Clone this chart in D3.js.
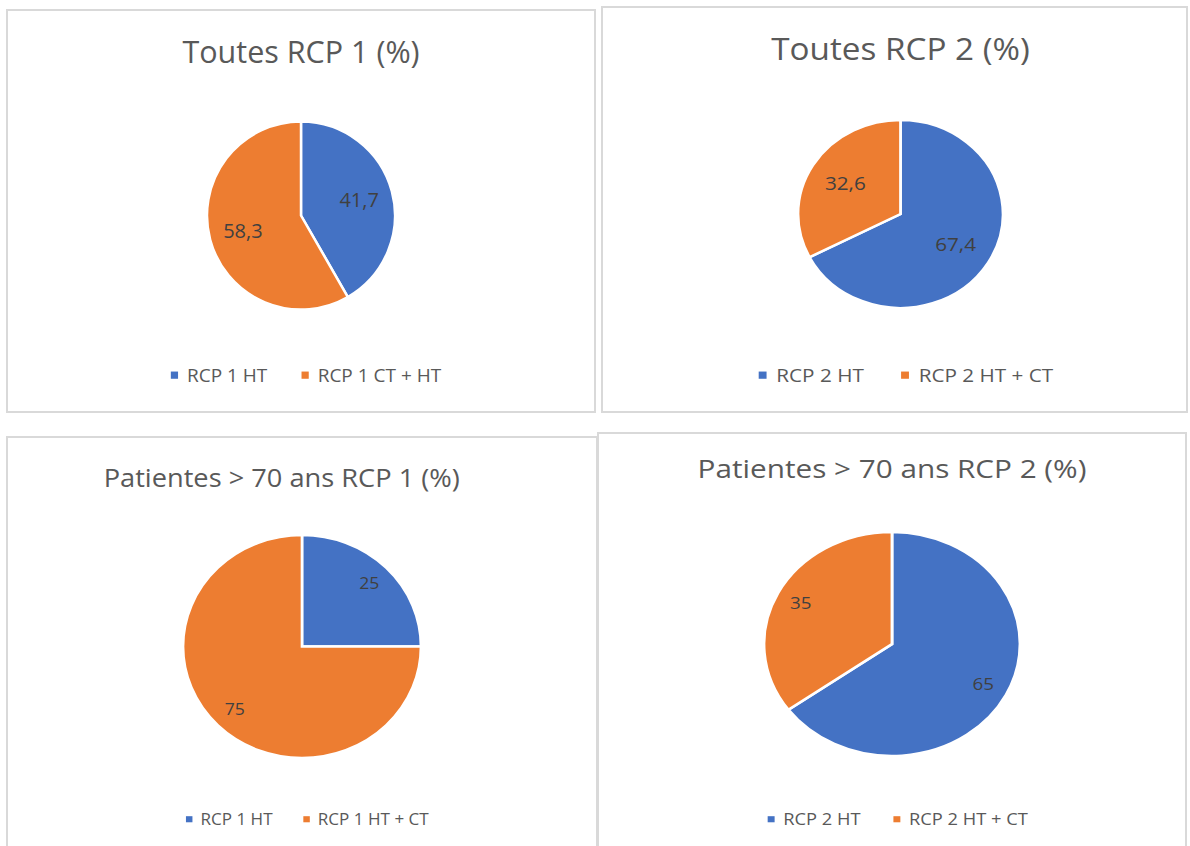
<!DOCTYPE html>
<html>
<head>
<meta charset="utf-8">
<script src="https://cdn.jsdelivr.net/npm/d3@7"></script>
<style>
  body { margin: 0; background: #fff; }
  text { font-family: "Open Sans", "Noto Sans", sans-serif; }
</style>
</head>
<body>
<script>
// data
const titles = ["Toutes RCP 1 (%)", "Toutes RCP 2 (%)", "Patientes > 70 ans RCP 1 (%)", "Patientes > 70 ans RCP 2 (%)"];
const seriesNames = [
  ["RCP 1 HT", "RCP 1 CT + HT"],
  ["RCP 2 HT", "RCP 2 HT + CT"],
  ["RCP 1 HT", "RCP 1 HT + CT"],
  ["RCP 2 HT", "RCP 2 HT + CT"]
];
const values = [[41.7, 58.3], [67.4, 32.6], [25, 75], [65, 35]];
const colors = ["#4472C4", "#ED7D31"];

// layout of the four boxes (the screenshot is stretched a bit sideways)
const panels = [
  {box: [7, 10, 588, 402], cx: 301, cy: 215.5, r: 94, sx: 1, titleDx: 0, titleY: 63, titleSize: 30.5, legendY: 382, legendSize: 19, labelSize: 20, labelR: 0.64},
  {box: [602, 7, 585, 405], cx: 900.5, cy: 214, r: 94, sx: 1.09, titleDx: 0, titleY: 60, titleSize: 30.5, legendY: 382, legendSize: 19, labelSize: 19, labelR: 0.63},
  {box: [7, 437, 590, 420], cx: 302, cy: 646.5, r: 111.5, sx: 1.067, titleDx: -19, titleY: 487, titleSize: 25.5, legendY: 825, legendSize: 16, labelSize: 16.5, labelR: 0.8},
  {box: [598, 433, 588, 420], cx: 892, cy: 644, r: 112, sx: 1.143, titleDx: 0, titleY: 478, titleSize: 26, legendY: 825, legendSize: 16, labelSize: 16.5, labelR: 0.8}
];

const w = 1190, h = 846;
const svg = d3.select("body").append("svg")
  .attr("width", w)
  .attr("height", h);

const pie = d3.pie().sort(null).value(d => d);
const fmt = v => String(v).replace(".", ",");

panels.forEach((p, i) => {
  svg.append("rect")
    .attr("x", p.box[0]).attr("y", p.box[1])
    .attr("width", p.box[2]).attr("height", p.box[3])
    .attr("fill", "#fff")
    .attr("stroke", "#d9d9d9")
    .attr("stroke-width", 2);

  const g = svg.append("g")
    .attr("transform", `translate(${p.cx},0) scale(${p.sx},1)`);

  g.append("text")
    .attr("x", p.titleDx)
    .attr("y", p.titleY)
    .attr("text-anchor", "middle")
    .attr("font-size", p.titleSize)
    .attr("fill", "#595959")
    .text(titles[i]);

  const arc = d3.arc().innerRadius(0).outerRadius(p.r);
  const labelArc = d3.arc().innerRadius(p.r * p.labelR).outerRadius(p.r * p.labelR);
  const arcs = pie(values[i]);

  const pg = g.append("g").attr("transform", `translate(0,${p.cy})`);
  pg.selectAll("path")
    .data(arcs)
    .enter()
    .append("path")
    .attr("d", arc)
    .attr("fill", (d, j) => colors[j])
    .attr("stroke", "#fff")
    .attr("stroke-width", 2.5);

  pg.selectAll("text")
    .data(arcs)
    .enter()
    .append("text")
    .attr("transform", d => `translate(${labelArc.centroid(d)})`)
    .attr("text-anchor", "middle")
    .attr("dy", "0.35em")
    .attr("font-size", p.labelSize)
    .attr("fill", "#404040")
    .text(d => fmt(d.data));

  // legend
  const lg = g.append("g");
  const items = lg.selectAll("g")
    .data(seriesNames[i])
    .enter()
    .append("g");
  const sq = p.legendSize * 0.38;
  items.append("rect")
    .attr("width", sq).attr("height", sq)
    .attr("y", p.legendY - p.legendSize * 0.36 - sq / 2)
    .attr("fill", (d, j) => colors[j]);
  items.append("text")
    .attr("x", p.legendSize * 0.85)
    .attr("y", p.legendY)
    .attr("font-size", p.legendSize)
    .attr("fill", "#595959")
    .text(d => d);
  let xpos = 0;
  items.each(function(d, j) {
    const tw = d3.select(this).select("text").node().getComputedTextLength();
    d3.select(this).attr("transform", `translate(${xpos},0)`);
    xpos += p.legendSize * 0.85 + tw + p.legendSize * 1.8;
  });
  const total = xpos - p.legendSize * 1.8;
  lg.attr("transform", `translate(${-total / 2 + 5},0)`);
});
</script>
</body>
</html>
